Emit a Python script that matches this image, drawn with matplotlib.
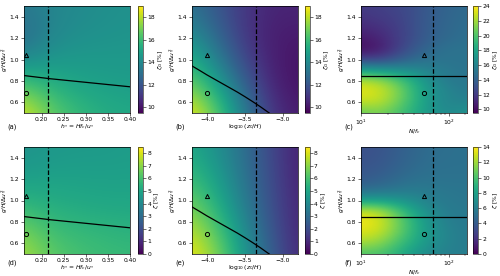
import numpy as np
import matplotlib
matplotlib.use("Agg")
import matplotlib.pyplot as plt

# axis grids
hs_x = [0.16, 0.22, 0.28, 0.34, 0.40]
z0_x = [-4.2, -3.85, -3.5, -3.15, -2.8]
nf_x = [10, 15.85, 25.1, 39.8, 63.1, 100, 158.5]
y5 = [0.5, 0.75, 1.0, 1.25, 1.5]
y11 = [0.5, 0.6, 0.7, 0.8, 0.9, 1.0, 1.1, 1.2, 1.3, 1.4, 1.5]

# zeta_G [%], rows = y, cols = x
zg_a = [[18.5, 16.8, 15.9, 15.4, 15.2],
        [16.5, 15.6, 15.1, 14.9, 14.8],
        [14.0, 14.5, 14.6, 14.6, 14.6],
        [12.8, 13.8, 14.2, 14.3, 14.4],
        [13.4, 13.8, 14.0, 14.2, 14.3]]
zg_b = [[18.8, 16.5, 13.5, 11.0, 10.2],
        [17.0, 15.0, 12.5, 10.5, 10.0],
        [15.5, 13.5, 11.5, 10.3, 10.0],
        [14.0, 12.5, 11.0, 10.3, 10.2],
        [13.0, 12.0, 11.0, 10.5, 10.5]]
zg_c = [[20.5, 21.0, 20.0, 18.5, 17.0, 16.5, 17.0],
        [22.5, 22.5, 21.0, 19.0, 17.0, 16.0, 16.0],
        [23.5, 23.0, 21.5, 19.0, 17.0, 16.0, 15.5],
        [22.5, 22.0, 20.5, 18.5, 16.5, 15.5, 15.2],
        [18.0, 17.5, 17.0, 16.5, 15.8, 15.3, 15.0],
        [12.5, 12.5, 13.5, 14.5, 15.0, 15.0, 15.0],
        [10.0, 10.5, 12.0, 13.5, 14.5, 15.0, 15.0],
        [10.5, 11.0, 12.0, 13.0, 14.0, 14.5, 14.8],
        [11.2, 11.5, 12.1, 13.0, 13.9, 14.4, 14.7],
        [11.7, 12.0, 12.3, 13.0, 13.8, 14.3, 14.6],
        [12.0, 12.2, 12.5, 13.0, 13.7, 14.2, 14.5]]

# zeta [%]
z_d = [[7.4, 6.4, 6.0, 5.8, 5.7],
       [6.6, 5.8, 5.6, 5.5, 5.4],
       [5.4, 5.2, 5.1, 5.0, 5.0],
       [4.7, 4.8, 4.8, 4.8, 4.8],
       [4.3, 4.5, 4.6, 4.6, 4.7]]
z_e = [[8.3, 6.8, 4.5, 2.5, 1.0],
       [7.5, 6.0, 4.0, 2.2, 0.9],
       [6.5, 5.2, 3.5, 2.0, 0.9],
       [5.7, 4.6, 3.2, 1.9, 0.8],
       [5.0, 4.2, 3.0, 1.8, 0.8]]
z_f = [[10.0, 10.0, 9.0, 7.5, 6.5, 6.0, 6.0],
       [12.0, 11.5, 10.0, 8.5, 7.0, 6.2, 5.8],
       [13.2, 12.8, 11.0, 9.0, 7.2, 6.2, 5.8],
       [13.8, 13.2, 11.3, 9.0, 7.0, 6.0, 5.7],
       [13.0, 12.5, 10.5, 8.2, 6.6, 5.8, 5.6],
       [8.0, 8.0, 7.5, 6.8, 6.0, 5.6, 5.5],
       [5.0, 5.2, 5.5, 5.8, 5.6, 5.5, 5.4],
       [4.0, 4.3, 4.8, 5.2, 5.3, 5.3, 5.3],
       [3.7, 3.9, 4.4, 4.9, 5.15, 5.2, 5.2],
       [3.5, 3.7, 4.2, 4.7, 5.05, 5.15, 5.2],
       [3.4, 3.6, 4.1, 4.6, 5.0, 5.1, 5.2]]

# boundary curves and reference marks
line_a_x = [0.16, 0.22, 0.28, 0.34, 0.40]
line_a_y = [0.85, 0.82, 0.795, 0.77, 0.745]
line_b_x = [-4.2, -4.1, -4.0, -3.9, -3.8, -3.7, -3.6, -3.5, -3.4, -3.3, -3.18]
line_b_y = [0.94, 0.898, 0.855, 0.815, 0.775, 0.735, 0.695, 0.652, 0.607, 0.56, 0.5]
line_c_x = [10, 160]
line_c_y = [0.85, 0.85]
dash_x = {"a": 0.215, "b": -3.35, "c": 65}
pt_x = {"a": 0.165, "b": -4.0, "c": 51}
tri_y, circ_y = 1.04, 0.69

plt.rcParams['font.size'] = 4.3
plt.rcParams['axes.linewidth'] = 0.5
plt.rcParams['xtick.major.width'] = 0.4
plt.rcParams['ytick.major.width'] = 0.4
plt.rcParams['xtick.major.size'] = 2
plt.rcParams['ytick.major.size'] = 2
plt.rcParams['xtick.minor.size'] = 1.2
plt.rcParams['xtick.minor.width'] = 0.3
plt.rcParams['xtick.major.pad'] = 1.2
plt.rcParams['ytick.major.pad'] = 1.5

W, H = 500, 276
fig = plt.figure(figsize=(W / 100, H / 100), dpi=100)

ax_left = {"a": 24, "b": 192, "c": 361}
cb_left = {"a": 138, "b": 305, "c": 473}
cb_w = {"a": 5, "b": 4.5, "c": 5}
row_top = [6, 147]
lab_y = [127, 263]
ax_w, ax_h = 106, 107

panels = [
    ("a", 0, hs_x, y5, zg_a, (9.5, 19), np.arange(10, 19, 2), r"$\zeta_G$ [%]"),
    ("b", 0, z0_x, y5, zg_b, (9.5, 19), np.arange(10, 19, 2), r"$\zeta_G$ [%]"),
    ("c", 0, nf_x, y11, zg_c, (9.5, 24), np.arange(10, 25, 2), r"$\zeta_G$ [%]"),
    ("d", 1, hs_x, y5, z_d, (0, 8.5), np.arange(0, 9, 1), r"$\zeta$ [%]"),
    ("e", 1, z0_x, y5, z_e, (0, 8.5), np.arange(0, 9, 1), r"$\zeta$ [%]"),
    ("f", 1, nf_x, y11, z_f, (0, 14), np.arange(0, 15, 2), r"$\zeta$ [%]"),
]
col_of = {"a": "a", "b": "b", "c": "c", "d": "a", "e": "b", "f": "c"}

for tag, row, xs, ys, vals, (vmin, vmax), cticks, clab in panels:
    col = col_of[tag]
    top = row_top[row]
    ax = fig.add_axes([ax_left[col] / W, (H - top - ax_h) / H, ax_w / W, ax_h / H])
    # N/f_c is drawn in log10 space so the field can be smoothly interpolated
    xp = np.log10(xs) if col == "c" else np.asarray(xs)
    dx = (xp[-1] - xp[0]) / (len(xp) - 1)
    dy = (ys[-1] - ys[0]) / (len(ys) - 1)
    img = ax.imshow(np.array(vals), origin='lower', aspect='auto', cmap='viridis',
                    interpolation='bicubic', vmin=vmin, vmax=vmax,
                    extent=[xp[0] - dx / 2, xp[-1] + dx / 2, ys[0] - dy / 2, ys[-1] + dy / 2])
    if col == "a":
        ax.plot(line_a_x, line_a_y, color='k', lw=0.9)
        ax.axvline(dash_x[col], color='k', ls='--', lw=0.9)
        ax.plot(pt_x[col], tri_y, marker='^', ms=3, mfc='none', mec='k', mew=0.7)
        ax.plot(pt_x[col], circ_y, marker='o', ms=3, mfc='none', mec='k', mew=0.7)
        ax.set_xlim(0.16, 0.40)
        ax.set_xticks([0.20, 0.25, 0.30, 0.35, 0.40])
        ax.set_xlabel(r"$h_* = Hf_c/u_*$", labelpad=0)
    elif col == "b":
        ax.plot(line_b_x, line_b_y, color='k', lw=0.9)
        ax.axvline(dash_x[col], color='k', ls='--', lw=0.9)
        ax.plot(pt_x[col], tri_y, marker='^', ms=3, mfc='none', mec='k', mew=0.7)
        ax.plot(pt_x[col], circ_y, marker='o', ms=3, mfc='none', mec='k', mew=0.7)
        ax.set_xlim(-4.2, -2.8)
        ax.set_xticks([-4.0, -3.5, -3.0])
        ax.set_xlabel(r"$\log_{10}(z_0/H)$", labelpad=0)
    else:
        ax.plot(np.log10(line_c_x), line_c_y, color='k', lw=0.9)
        ax.axvline(np.log10(dash_x[col]), color='k', ls='--', lw=0.9)
        ax.plot(np.log10(pt_x[col]), tri_y, marker='^', ms=3, mfc='none', mec='k', mew=0.7)
        ax.plot(np.log10(pt_x[col]), circ_y, marker='o', ms=3, mfc='none', mec='k', mew=0.7)
        ax.set_xlim(np.log10(nf_x[0]), np.log10(nf_x[-1]))
        ax.set_xticks([1, 2])
        ax.set_xticklabels([r"$10^1$", r"$10^2$"])
        ax.set_xticks(np.log10([20, 30, 40, 50, 60, 70, 80, 90, 150]), minor=True)
        ax.set_xlabel(r"$N/f_c$", labelpad=0)
    ax.set_ylim(0.5, 1.5)
    ax.set_yticks([0.6, 0.8, 1.0, 1.2, 1.4])
    ax.set_ylabel(r"$g'H/\Delta u_*^2$", labelpad=0.5)
    fig.text((ax_left[col] - 17) / W, (H - lab_y[row]) / H, f"({tag})",
             fontsize=4.8, ha='left', va='center')

    cax = fig.add_axes([cb_left[col] / W, (H - top - ax_h) / H, cb_w[col] / W, ax_h / H])
    cb = fig.colorbar(img, cax=cax, ticks=cticks)
    cb.outline.set_linewidth(0.4)
    cb.ax.tick_params(width=0.4, length=2, pad=1.2)
    cb.set_label(clab, labelpad=0.5)

fig.savefig("out.png", dpi=100)
